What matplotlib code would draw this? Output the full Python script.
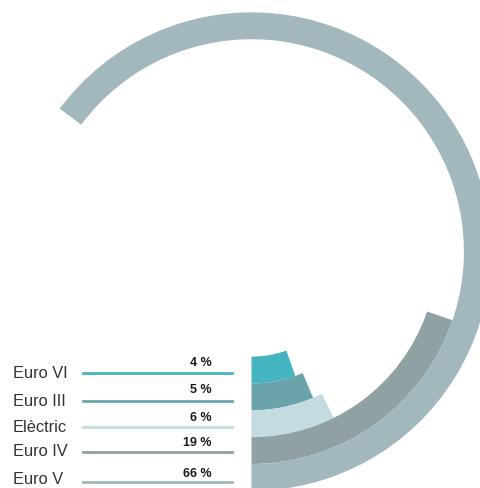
import numpy as np
import matplotlib.pyplot as plt
from matplotlib.lines import Line2D

# fleet share by emission class, innermost ring first
classes = ['Euro VI', 'Euro III', 'Elèctric', 'Euro IV', 'Euro V']
shares = [4, 5, 6, 19, 66]
share_labels = ['4 %', '5 %', '6 %', '19 %', '66 %']
colors = ['#43b4c0', '#6aa3ab', '#c4dbdf', '#8fa1a3', '#a3b8bc']

# angular scale: small floor so tiny shares stay visible
MIN_SWEEP = 5.6
DEG_PER_PCT = 3.45

W, H = 481, 488
CX, CY = 251.5, 236.4        # ring centre, pixels from bottom-left
R_MAX = 240
R_INNER = 105
RING = 26.85


def ring_chart(fig):
    ax = fig.add_axes([(CX - R_MAX) / W, (CY - R_MAX) / H,
                       2 * R_MAX / W, 2 * R_MAX / H], projection='polar')
    ax.set_theta_zero_location('S')
    ax.set_theta_direction(1)
    for i, (v, c) in enumerate(zip(shares, colors)):
        sweep = np.deg2rad(MIN_SWEEP + DEG_PER_PCT * v)
        ax.bar(0, RING, width=sweep, bottom=R_INNER + i * RING,
               align='edge', color=c, edgecolor='none', linewidth=0)
    ax.set_ylim(0, R_MAX)
    ax.set_axis_off()
    return ax


def legend_rows(fig):
    ax = fig.add_axes([0, 0, 1, 1])
    ax.set_xlim(0, W)
    ax.set_ylim(H, 0)
    ax.axis('off')
    line_y = [373.3, 401.3, 426.7, 452, 482]
    name_y = [373, 401, 427, 452, 480]
    pct_y = [362.7, 390, 417.7, 442.7, 474.3]
    for i, (name, lab, c) in enumerate(zip(classes, share_labels, colors)):
        ax.add_line(Line2D([83, 232], [line_y[i]] * 2, color=c, lw=2))
        ax.text(13, name_y[i], name, fontsize=11.8, color='#333333',
                family='Liberation Sans', va='center', ha='left')
        ax.text(212, pct_y[i], lab, fontsize=9, color='#1a1a1a',
                family='Liberation Sans', fontweight='bold',
                va='center', ha='right')


def main():
    fig = plt.figure(figsize=(W / 100, H / 100), dpi=100)
    ring_chart(fig)
    legend_rows(fig)
    fig.savefig('out.png', dpi=100)


if __name__ == '__main__':
    main()
